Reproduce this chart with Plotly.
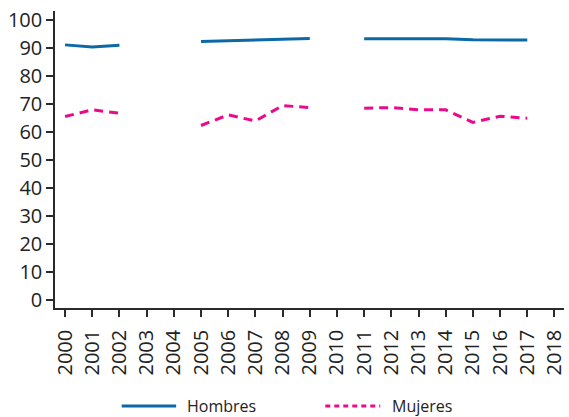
import plotly.graph_objects as go

# Years on the x axis and the share for each group (None = no data that year)
years = list(range(2000, 2019))
hombres = [91.1, 90.3, 91.0, None, None, 92.3, 92.6, 92.9, 93.2, 93.4,
           None, 93.3, 93.3, 93.3, 93.3, 92.9, 92.9, 92.8, None]
mujeres = [65.5, 67.9, 66.7, None, None, 62.3, 66.1, 63.9, 69.4, 68.7,
           None, 68.5, 68.7, 67.9, 67.9, 63.4, 65.6, 64.9, None]
y_ticks = list(range(0, 101, 10))

BLUE = "#0b69a8"
PINK = "#ec0a8c"
AXIS = "#2b2b2b"
FONT = "Open Sans"

fig = go.Figure()
fig.add_trace(go.Scatter(x=years, y=hombres, mode="lines", name="Hombres",
                         line=dict(color=BLUE, width=3), connectgaps=False))
fig.add_trace(go.Scatter(x=years, y=mujeres, mode="lines", name="Mujeres",
                         line=dict(color=PINK, width=3, dash="9px,6px"),
                         connectgaps=False))

fig.update_layout(
    width=569, height=417,
    margin=dict(l=55, r=2, t=11, b=109),
    plot_bgcolor="white", paper_bgcolor="white",
    showlegend=False,
    font=dict(family=FONT, size=20, color="#222"),
    xaxis=dict(range=[1999.63, 2018.35], tickvals=years,
               ticktext=[str(y) for y in years], tickangle=-90,
               showgrid=False, zeroline=False, showline=True,
               linecolor=AXIS, linewidth=1.5, ticks="outside",
               ticklen=7, tickcolor=AXIS, tickwidth=1.5,
               ticklabeloverflow="allow", ticklabelstandoff=5,
               tickfont=dict(family=FONT, size=20, color="#222")),
    yaxis=dict(range=[-2.9, 103.2], tickvals=y_ticks,
               showgrid=False, zeroline=False, showline=True,
               linecolor=AXIS, linewidth=1.5, ticks="outside",
               ticklen=7, tickcolor=AXIS, tickwidth=1.5,
               tickfont=dict(family=FONT, size=20, color="#222")),
)

# Legend row under the axis, drawn with longer line samples
legend_y = -0.33
items = [("Hombres", BLUE, "solid", 0.131, 0.238, 0.256),
         ("Mujeres", PINK, "5px,4px", 0.531, 0.639, 0.658)]
for name, color, dash, x0, x1, xt in items:
    fig.add_shape(type="line", xref="paper", yref="paper",
                  x0=x0, x1=x1, y0=legend_y, y1=legend_y,
                  line=dict(color=color, width=3, dash=dash))
    fig.add_annotation(xref="paper", yref="paper", x=xt, y=legend_y,
                       text=name, showarrow=False, xanchor="left",
                       yanchor="middle",
                       font=dict(family=FONT, size=16, color="#222"))

fig.write_html("out.html")
